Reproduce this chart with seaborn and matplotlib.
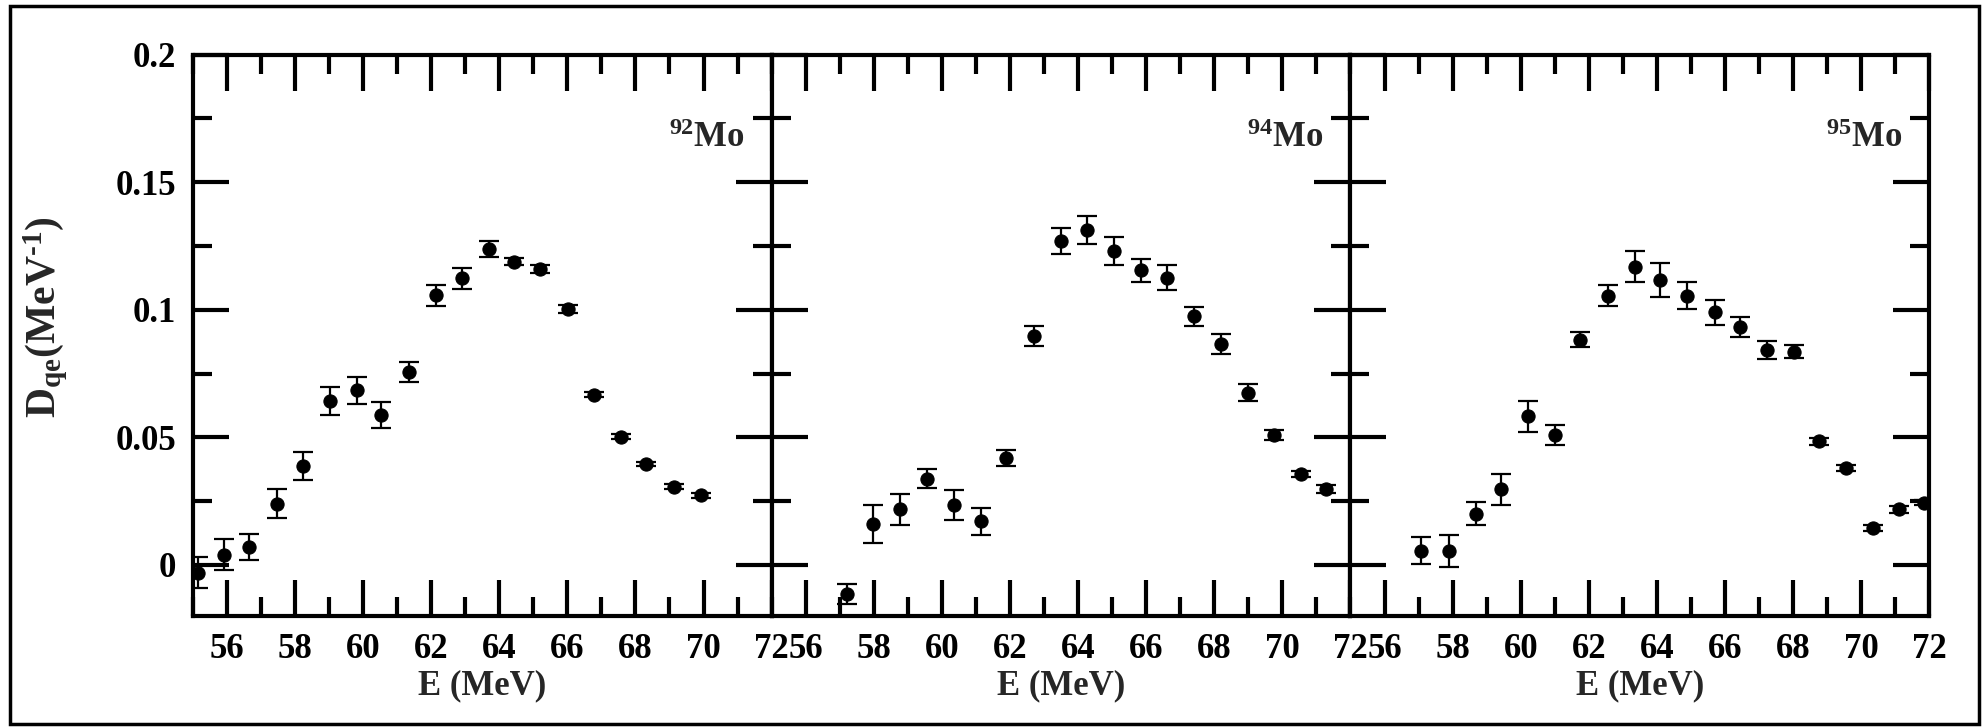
import numpy as np
import pandas as pd
import matplotlib
matplotlib.use("Agg")
import matplotlib.pyplot as plt
import seaborn as sns
from matplotlib.ticker import MultipleLocator, FuncFormatter
from matplotlib.patches import Rectangle

# ---------------- data ----------------
e92 = [55.15, 55.93, 56.65, 57.48, 58.23, 59.04, 59.83, 60.54, 61.34, 62.13,
       62.91, 63.69, 64.44, 65.21, 66.02, 66.79, 67.57, 68.32, 69.14, 69.94]
d92 = [-0.003, 0.004, 0.007, 0.024, 0.0388, 0.0644, 0.0684, 0.0588, 0.0757, 0.1056,
       0.1123, 0.1238, 0.1189, 0.116, 0.1002, 0.0666, 0.0503, 0.0397, 0.0307, 0.0272]
err92 = [0.006, 0.006, 0.005, 0.0057, 0.0055, 0.0055, 0.0052, 0.005, 0.004, 0.004,
         0.004, 0.003, 0.0015, 0.0015, 0.0015, 0.001, 0.0008, 0.0008, 0.0008, 0.0008]

e94 = [57.21, 57.98, 58.78, 59.57, 60.35, 61.15, 61.89, 62.71, 63.5, 64.26,
       65.06, 65.86, 66.6, 67.41, 68.21, 68.98, 69.76, 70.56, 71.27]
d94 = [-0.0114, 0.0161, 0.0217, 0.0338, 0.0235, 0.017, 0.0419, 0.0897, 0.127, 0.1312,
       0.1231, 0.1155, 0.1126, 0.0975, 0.0865, 0.0675, 0.0509, 0.0356, 0.0298]
err94 = [0.004, 0.0074, 0.006, 0.0036, 0.006, 0.0053, 0.003, 0.004, 0.005, 0.0054,
         0.0054, 0.0045, 0.005, 0.0037, 0.004, 0.0033, 0.002, 0.0012, 0.0015]

e95 = [57.08, 57.89, 58.69, 59.42, 60.2, 61.02, 61.74, 62.55, 63.35, 64.08,
       64.89, 65.7, 66.45, 67.23, 68.03, 68.76, 69.55, 70.35, 71.1, 71.84]
d95 = [0.0055, 0.0055, 0.0201, 0.0297, 0.0582, 0.0509, 0.0883, 0.1055, 0.1169, 0.1117,
       0.1055, 0.099, 0.0932, 0.0842, 0.0835, 0.0484, 0.0379, 0.0143, 0.0217, 0.0243]
err95 = [0.0053, 0.0062, 0.0044, 0.0061, 0.0062, 0.0038, 0.003, 0.0042, 0.006, 0.0066,
         0.0054, 0.0049, 0.0038, 0.0034, 0.0025, 0.0013, 0.0012, 0.0012, 0.0012, 0.001]

nuclei = ["92", "94", "95"]
x_ticks = [56, 58, 60, 62, 64, 66, 68, 70, 72]
y_ticks = [0, 0.05, 0.1, 0.15, 0.2]
x_label = "E (MeV)"
y_label = r"D$_{\rm qe}$(MeV$^{\text{-1}}$)"

# ---------------- style ----------------
sns.set_theme(style="ticks")
plt.rcParams["font.family"] = ["Liberation Serif", "DejaVu Serif"]
plt.rcParams["font.weight"] = "bold"
plt.rcParams["mathtext.fontset"] = "custom"
plt.rcParams["mathtext.rm"] = "Liberation Serif:bold"
plt.rcParams["mathtext.it"] = "Liberation Serif:bold"
plt.rcParams["mathtext.bf"] = "Liberation Serif:bold"

frames = []
for nuc, e, d, s in [("92", e92, d92, err92), ("94", e94, d94, err94), ("95", e95, d95, err95)]:
    frames.append(pd.DataFrame({"E": e, "D": d, "err": s, "nucleus": nuc}))
df = pd.concat(frames, ignore_index=True)

fig, axes = plt.subplots(1, 3, figsize=(19.87, 7.28), dpi=100, sharey=True)
fig.subplots_adjust(left=0.097, right=0.971, bottom=0.154, top=0.925, wspace=0)

fmt = FuncFormatter(lambda v, p: "%g" % round(v, 4))

for i, (ax, nuc) in enumerate(zip(axes, nuclei)):
    sub = df[df["nucleus"] == nuc]
    ax.errorbar(sub["E"], sub["D"], yerr=sub["err"], fmt="none", ecolor="black",
                elinewidth=1.6, capsize=7, capthick=1.6, zorder=2)
    sns.scatterplot(data=sub, x="E", y="D", ax=ax, color="black", s=90,
                    marker="o", edgecolor="black", linewidth=0.8, zorder=3, legend=False)
    ax.set_xlim(55, 72)
    ax.set_ylim(-0.02, 0.2)
    ax.set_xticks(x_ticks)
    ax.set_yticks(y_ticks)
    ax.xaxis.set_minor_locator(MultipleLocator(1))
    ax.yaxis.set_minor_locator(MultipleLocator(0.025))
    ax.xaxis.set_major_formatter(fmt)
    ax.yaxis.set_major_formatter(fmt)
    ax.tick_params(which="both", direction="in", top=True, right=True, bottom=True, left=True,
                   width=3, colors="black")
    ax.tick_params(which="major", length=26, pad=12, labelsize=25)
    ax.tick_params(which="minor", length=14)
    for sp in ax.spines.values():
        sp.set_linewidth(3)
        sp.set_color("black")
    ax.set_xlabel(x_label, fontsize=25, fontweight="bold", labelpad=3)
    ax.set_ylabel("")
    if i > 0:
        ax.tick_params(labelleft=False)
    ax.text(0.953, 0.835, r"$^{" + nuc + r"}$Mo", transform=ax.transAxes,
            ha="right", va="baseline", fontsize=25, fontweight="bold")
    for lbl in ax.get_xticklabels() + ax.get_yticklabels():
        lbl.set_fontweight("bold")

fig.text(46 / 1987, 0.565, y_label, rotation=90, ha="center", va="center",
         fontsize=30, fontweight="bold")

fig.patches.append(Rectangle((0.005, 0.0055), 0.991, 0.986, transform=fig.transFigure,
                             fill=False, lw=2.5, ec="black", zorder=10))

fig.savefig("out.png", dpi=100, facecolor="white")
